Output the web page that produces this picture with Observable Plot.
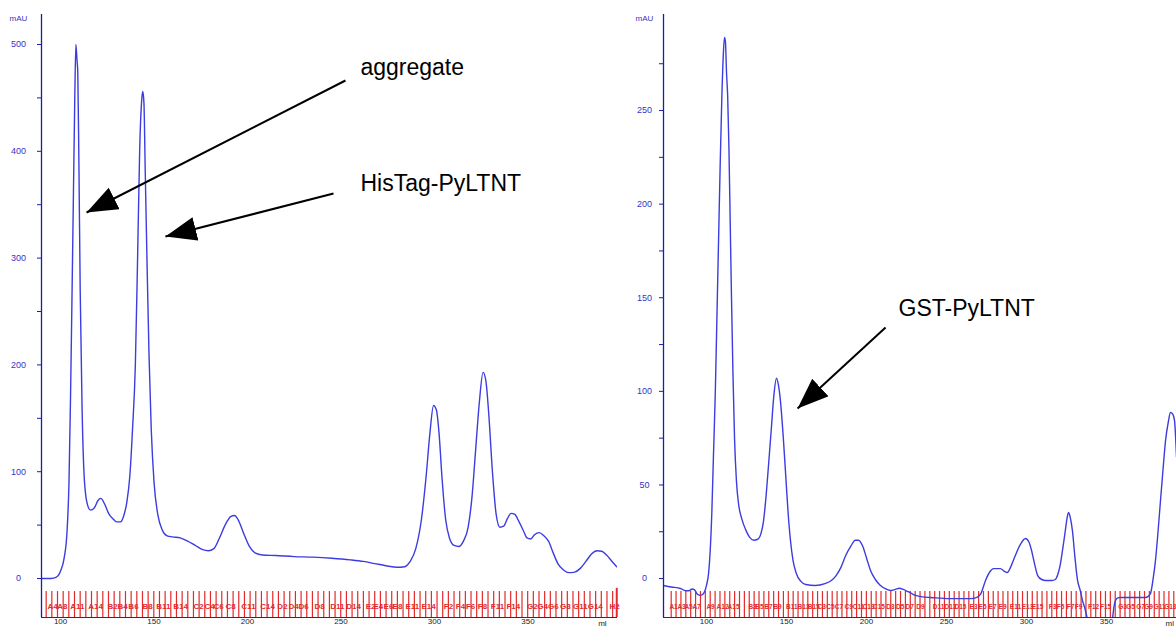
<!DOCTYPE html>
<html><head><meta charset="utf-8">
<script src="https://cdn.jsdelivr.net/npm/d3@7"></script>
<script src="https://cdn.jsdelivr.net/npm/@observablehq/plot@0.6"></script>
<style>
html,body{margin:0;padding:0;background:#fff;}
#wrap{position:relative;width:1176px;height:628px;overflow:hidden;background:#fff;}
#left{position:absolute;left:0;top:0;}
#right{position:absolute;left:620px;top:0;}
</style></head><body><div id="wrap"><div id="left"></div><div id="right"></div></div>
<script>
// ---------- Left chromatogram (HisTag-PyLTNT) ----------
const leftMl = [90,95,97.5,100,102,103.5,104.5,105.3,106,106.8,107.6,108.2,108.8,109.2,109.8,110.5,111.5,112.5,114,116,118,120,121.5,123.5,126,128,130,132,134,135.5,137,138.5,140,141.2,142.3,143.5,144,144.6,145.3,146.2,147.3,148.5,150,152,154.5,157,160,164,168,172,176,179,182,185,188,191,193,195,198,201,204,208,215,225,235,245,255,262,268,274,280,284,287,290,293,295.5,297.5,299.5,301,302.5,304,306,308,310.5,313,315.5,318,320,322,324,326,327.5,329,331,333,335,337,339,341,343,345,347.5,349.5,351.5,353.5,356,358.5,361,363.5,366,369,372,375,378,381,384,387,389.5,392,395,397.5];
const leftMau = [0,0,1,7,20,45,90,167,250,350,450,500,485,475,390,270,160,100,72,64,66,73,75,70,60,56,53,53,60,72,95,140,200,300,400,450,456,445,380,300,210,140,90,60,45,40,39,38,35,31,27,26,28,38,50,58,59,55,42,30,24,22,21.5,20.5,20,19,17.5,16,14,12,10.5,11,16,28,55,95,135,162,158,135,95,55,38,31,30,35,48,75,120,165,193,185,155,100,60,48,49,56,61,60,54,45,38,37,41,43,40,35,24,14,8,5.5,6,9.5,16,23,26,25.5,22,16,11];
const leftYMajor = [0,100,200,300,400,500];
const leftYMinor = [0,50,100,150,200,250,300,350,400,450,500];
const leftXTicks = [100,150,200,250,300,350];
const leftFracNames = ["A4","A8","A11","A14","B2","B4","B6","B8","B11","B14","C2","C4","C6","C8","C11","C14","D2","D4","D6","D8","D11","D14","E2","E4","E6","E8","E11","E14","F2","F4","F6","F8","F11","F14","G2","G4","G6","G8","G11","G14","H2"];
const leftFracMl = [95.7,101,109,118.7,127.8,133.2,139,146.5,155,164.2,173.8,179.7,184.5,191,200.5,210.7,218.7,224.6,230,238.5,248,256.7,265.8,270,275.4,280.2,288.2,296.8,307.5,313.9,319.3,325.7,333.7,342.2,352.4,357.8,363.6,370,378,386,396.3];

// ---------- Right chromatogram (GST-PyLTNT) ----------
const rightMl = [73.1,78,83.7,87,89,91,92.5,94.4,96.5,98.5,100,101.3,102.3,103.3,104.3,105.5,106.5,107.5,108.5,109.5,110.5,111.2,111.8,112.5,113.2,114,114.8,115.6,116.5,117.5,118.7,120,122,124.5,127,129.5,132,134,135.5,137,138.7,140.5,142,143.7,145,146.3,148,149.5,151,152.5,154,156,159,162,168,174,178,181,184,187,190,193,195,197.5,200,202.5,205.5,208.7,212,215,218,220.5,223,226,230.6,235,240,252,265,269,271.5,274.4,277,279.4,283.7,286,288,290,293,296,299.4,301.5,303,305,307,309.5,312,316,318,319.5,321,322.5,324,325.5,326.3,327.5,328.7,330.2,331.9,333.5,335,336.5,338,340,345,350,352.5,353.75,354.7,355.6,357,358.75,365,374.4,376,377.5,379,380.6,382.2,383.75,385.3,386.9,388.5,390,391.3,392.5,393.75];
const rightMau = [-3.7,-4.5,-5.3,-6.5,-6.5,-5.6,-6,-8.5,-9,-7.5,-3.5,3,15,35,65,100,140,180,220,255,280,289,287,270,258,230,190,150,110,75,52,40,32,26,22,20.5,21,24,30,42,60,80,97,107,103,94,75,55,35,20,10,3,-1.5,-3.2,-3.7,-2.7,-1,1.6,6,12.3,17,20.5,20.5,17.5,11,4.3,-0.5,-3.7,-5.5,-6.4,-5.8,-5.2,-5.8,-7,-9,-9.8,-10.1,-10.7,-10.7,-10,-8,-1,3.5,5.3,5.3,4,3.2,6,12.3,18,21.4,19.5,15.5,8,1.6,-0.5,-1,-1,-0.5,2,7,15,24,33,35.3,32,25.6,12,-1,-6,-11.75,-16,-21.4,-30,-35,-35,-30,-21.4,-15,-11.75,-10.3,-10.1,-10.1,-10.1,-9.5,-8,-1,9.6,25,41.7,58,73.7,83,88.7,88,84.5,65];
const rightYMajor = [0,50,100,150,200,250];
const rightYMinor = [0,25,50,75,100,125,150,175,200,225,250,275];
const rightXTicks = [100,150,200,250,300,350];
const rightFracNames = ["A1","A3","A5","A7","A9","A12","A15","B3","B5","B7","B9","B11","B13","B15","C3","C5","C7","C9","C11","C13","C15","D3","D5","D7","D9","D11","D13","D15","E3","E5","E7","E9","E11","E13","E15","F3","F5","F7","F9","F12","F15","G3","G5","G7","G9","G11","G13"];
const rightFracMl = [79.4,84.4,88.75,93.75,102.5,110,116.9,128.75,133.1,138.75,144.4,153.3,160.6,167,172,177.5,182.8,188.9,195,201.3,207.8,215,221,227,233.75,245,252.5,258.75,266.9,272.5,278.75,285,293.1,300.6,306.9,316.25,321.25,327.5,332.5,341.9,349.4,360,365,371.25,376.25,383.2,389.9];

// Annotations
const leftNotes = ["aggregate", "HisTag-PyLTNT"];
const leftNoteMl = [260.4, 260.4];
const leftNoteMau = [478.5, 369.9];
const leftArrowFrom = [[252.4, 466.3], [246, 360.5]];
const leftArrowTo = [[113.9, 342.7], [156.1, 320.2]];
const rightNotes = ["GST-PyLTNT"];
const rightNoteMl = [220];
const rightNoteMau = [144.2];
const rightArrowFrom = [[211.9, 134.1]];
const rightArrowTo = [[156.9, 90.8]];

const NAVY = "#1c1ca8", BLUE = "#3c3ce0", TICKBLUE = "#3434c8", RED = "#e42a2a";
const FONT = "'Liberation Sans Narrow', 'Liberation Sans', Arial, sans-serif";

function chart(o) {
  const curve = o.ml.map((x, i) => ({x, y: o.mau[i]}));
  const fracs = o.fracNames.map((name, i) => ({name, x: o.fracMl[i]}));
  const notes = o.notes.map((t, i) => ({t, x: o.noteMl[i], y: o.noteMau[i]}));
  const arrows = o.arrowFrom.map((f, i) => ({x1: f[0], y1: f[1], x2: o.arrowTo[i][0], y2: o.arrowTo[i][1]}));
  const ticks = d3.range(o.fracStart, o.xDomain[1], o.fracStep);
  const svg = Plot.plot({
    width: o.width, height: 628,
    marginLeft: o.marginLeft, marginRight: o.marginRight, marginTop: 14, marginBottom: 11,
    style: {fontFamily: FONT, background: "transparent", overflow: "visible"},
    x: {domain: o.xDomain},
    y: {domain: o.yDomain},
    marks: [
      Plot.ruleX(ticks, {y1: o.fracY1, y2: o.fracY2, stroke: RED, strokeWidth: 1.2}),
      Plot.ruleX([o.fracEnd], {y1: o.fracY1 + 3, y2: o.fracY2, stroke: RED, strokeWidth: 2}),
      Plot.text(fracs, {x: "x", y: o.fracLabelY, text: "name", fill: RED, fontSize: o.fracFont, fontWeight: "bold", fontFamily: FONT}),
      Plot.line(curve, {x: "x", y: "y", stroke: BLUE, strokeWidth: 1.4, curve: "monotone-x", clip: true}),
      Plot.ruleY([o.yDomain[0]], {stroke: "#333", strokeWidth: 1.2}),
      Plot.ruleX([o.xDomain[0]], {stroke: NAVY, strokeWidth: 1.3}),
      Plot.axisY(o.yMinor, {tickSize: 4, tickFormat: () => "", stroke: NAVY, label: null}),
      Plot.axisY(o.yMajor, {tickSize: 0, tickPadding: o.labelPad, textAnchor: "middle", fill: TICKBLUE, fontSize: 9, label: null, fontFamily: FONT}),
      Plot.text(["mAU"], {x: o.xDomain[0], y: o.yDomain[1], dx: -o.labelPad, dy: 4, textAnchor: "middle", fill: TICKBLUE, fontSize: 8, fontFamily: FONT}),
      Plot.axisX(o.xTicks, {tickSize: 0, tickPadding: 1, fill: "#222", fontSize: 8, label: null, fontFamily: FONT}),
      Plot.text(["ml"], {x: o.mlPos, y: o.yDomain[0], dy: 6, fill: "#222", fontSize: 8, fontFamily: FONT}),
      Plot.link(arrows, {x1: "x1", y1: "y1", x2: "x2", y2: "y2", stroke: "black", strokeWidth: 2}),
      Plot.text(notes, {x: "x", y: "y", text: "t", textAnchor: "start", fill: "black", fontSize: 23, fontFamily: "'Liberation Sans', Arial, sans-serif"})
    ]
  });
  const s = d3.select(svg);
  const id = "head" + o.id;
  s.insert("defs", ":first-child").append("marker")
    .attr("id", id).attr("markerUnits", "userSpaceOnUse")
    .attr("markerWidth", 34).attr("markerHeight", 26)
    .attr("refX", 31).attr("refY", 12).attr("orient", "auto")
    .attr("viewBox", "0 0 34 26")
    .append("path").attr("d", "M0,0 L31,12 L0,24 Z").attr("fill", "black");
  s.selectAll("g[aria-label='link'] path").attr("marker-end", `url(#${id})`);
  return svg;
}

document.getElementById("left").appendChild(chart({
  id: "L", ml: leftMl, mau: leftMau, width: 620, marginLeft: 41, marginRight: 3,
  xDomain: [89.8, 397.9], yDomain: [-36.5, 528.1], labelPad: 23,
  yMajor: leftYMajor, yMinor: leftYMinor, xTicks: leftXTicks,
  fracNames: leftFracNames, fracMl: leftFracMl, fracStart: 92.3, fracStep: 3.03, fracEnd: 397.5, fracFont: 8,
  fracY1: -12.2, fracY2: -36.5, fracLabelY: -26.5, mlPos: 389.8,
  notes: leftNotes, noteMl: leftNoteMl, noteMau: leftNoteMau, arrowFrom: leftArrowFrom, arrowTo: leftArrowTo
}));
document.getElementById("right").appendChild(chart({
  id: "R", ml: rightMl, mau: rightMau, width: 556, marginLeft: 43, marginRight: 0,
  xDomain: [73.1, 393.75], yDomain: [-20.8, 301.3], labelPad: 19,
  yMajor: rightYMajor, yMinor: rightYMinor, xTicks: rightXTicks,
  fracNames: rightFracNames, fracMl: rightFracMl, fracStart: 77.9, fracStep: 3.05, fracEnd: 999, fracFont: 6.5,
  fracY1: -6.9, fracY2: -20.8, fracLabelY: -15, mlPos: 389.5,
  notes: rightNotes, noteMl: rightNoteMl, noteMau: rightNoteMau, arrowFrom: rightArrowFrom, arrowTo: rightArrowTo
}));
</script></body></html>
